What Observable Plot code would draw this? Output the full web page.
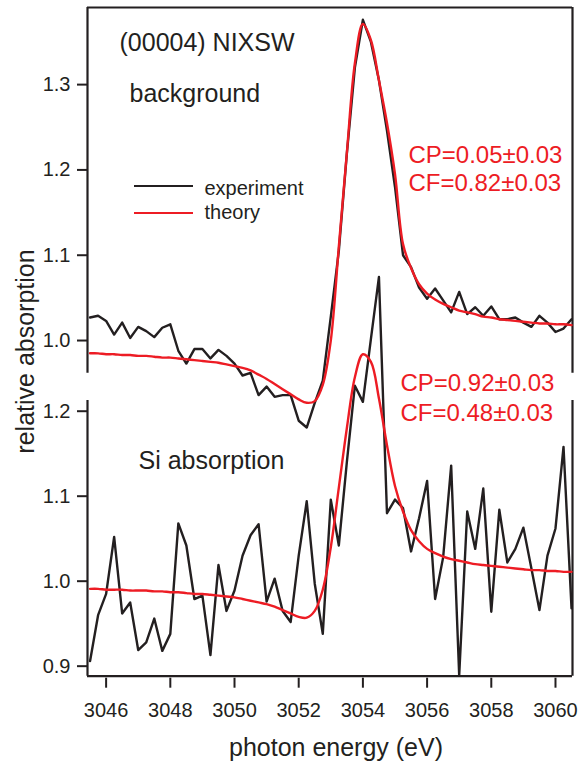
<!DOCTYPE html>
<html><head><meta charset="utf-8">
<script src="https://cdn.jsdelivr.net/npm/d3@7"></script>
<script src="https://cdn.jsdelivr.net/npm/@observablehq/plot@0.6"></script>
<style>
html,body{margin:0;padding:0;background:#fff;}
#chart{position:relative;width:582px;height:767px;}
#chart svg{position:absolute;left:0;overflow:visible;}
.sw{position:absolute;height:2px;width:59px;}
</style></head><body><div id="chart"></div>
<script>
// photon energy grid (eV)
const energy = [3045.5,3045.75,3046,3046.25,3046.5,3046.75,3047,3047.25,3047.5,3047.75,3048,3048.25,3048.5,3048.75,3049,3049.25,3049.5,3049.75,3050,3050.25,3050.5,3050.75,3051,3051.25,3051.5,3051.75,3052,3052.25,3052.5,3052.75,3053,3053.25,3053.5,3053.75,3054,3054.25,3054.5,3054.75,3055,3055.25,3055.5,3055.75,3056,3056.25,3056.5,3056.75,3057,3057.25,3057.5,3057.75,3058,3058.25,3058.5,3058.75,3059,3059.25,3059.5,3059.75,3060,3060.25,3060.5];
// background (upper panel)
const bgExperiment = [1.027,1.029,1.023,1.007,1.021,1.003,1.016,1.011,1.004,1.015,1.019,0.988,0.973,0.990,0.990,0.979,0.989,0.982,0.973,0.959,0.962,0.936,0.946,0.934,0.936,0.936,0.906,0.898,0.927,0.953,1.028,1.105,1.219,1.320,1.376,1.350,1.305,1.246,1.180,1.100,1.086,1.062,1.049,1.061,1.047,1.033,1.057,1.031,1.039,1.029,1.040,1.025,1.025,1.027,1.021,1.016,1.029,1.021,1.010,1.014,1.025];
const bgTheory = [0.985,0.985,0.984,0.984,0.983,0.983,0.982,0.982,0.981,0.980,0.980,0.979,0.978,0.977,0.976,0.975,0.974,0.972,0.970,0.968,0.965,0.960,0.955,0.949,0.943,0.937,0.931,0.927,0.929,0.948,1.000,1.110,1.220,1.325,1.371,1.352,1.305,1.255,1.195,1.113,1.085,1.066,1.055,1.048,1.043,1.039,1.035,1.033,1.031,1.028,1.027,1.025,1.024,1.023,1.022,1.021,1.020,1.020,1.019,1.019,1.018];
// Si absorption (lower panel)
const siExperiment = [0.906,0.960,0.985,1.052,0.962,0.975,0.919,0.928,0.956,0.918,0.938,1.068,1.042,0.979,0.983,0.913,1.019,0.965,0.989,1.030,1.054,1.067,0.976,1.003,0.965,0.952,1.030,1.094,0.997,0.938,1.096,1.042,1.140,1.230,1.211,1.285,1.358,1.080,1.096,1.086,1.035,1.074,1.118,0.979,1.028,1.136,0.889,1.082,1.038,1.109,0.964,1.084,1.022,1.038,1.063,1.015,0.966,1.030,1.062,1.158,0.968];
const siTheory = [0.991,0.991,0.990,0.990,0.990,0.989,0.989,0.989,0.988,0.988,0.987,0.987,0.986,0.985,0.985,0.984,0.983,0.982,0.981,0.979,0.977,0.975,0.973,0.970,0.966,0.962,0.958,0.957,0.965,0.990,1.040,1.110,1.180,1.240,1.267,1.258,1.215,1.160,1.112,1.082,1.060,1.047,1.038,1.033,1.029,1.026,1.024,1.022,1.020,1.019,1.018,1.017,1.016,1.015,1.014,1.013,1.013,1.012,1.012,1.011,1.011];
// axes
const xDomain = [3045.42, 3060.53];
const topDomain = [0.9617, 1.3904];
const botDomain = [0.8882, 1.2126];
const topTicks = [1.0, 1.1, 1.2, 1.3];
const botTicks = [0.9, 1.0, 1.1, 1.2];
const xTicks = [3046, 3048, 3050, 3052, 3054, 3056, 3058, 3060];
// texts
const panelTitle = "(00004) NIXSW";
const topLabel = "background";
const botLabel = "Si absorption";
const topFit = ["CP=0.05±0.03", "CF=0.82±0.03"];
const botFit = ["CP=0.92±0.03", "CF=0.48±0.03"];
const seriesNames = ["experiment", "theory"];
const yTitle = "relative absorption";
const xTitle = "photon energy (eV)";

const FONT = "'Liberation Sans', Arial, Helvetica, sans-serif";
const INK = "#231f20";
const RED = "#ed1c24";

const topRows = energy.map((e, i) => ({e, exp: bgExperiment[i], th: bgTheory[i]}));
const botRows = energy.map((e, i) => ({e, exp: siExperiment[i], th: siTheory[i]}));

const baseStyle = {fontFamily: FONT, fontSize: "20px", color: INK, overflow: "visible", background: "transparent"};
const txt = (s, o) => Plot.text([s], {frameAnchor: "top-left", textAnchor: "start", lineAnchor: "bottom", fill: INK, fontSize: 25, ...o});

const topPlot = Plot.plot({
  width: 582, height: 386,
  marginLeft: 87, marginRight: 10, marginTop: 7, marginBottom: 13.3,
  style: baseStyle,
  x: {domain: xDomain, axis: null},
  y: {domain: topDomain},
  marks: [
    Plot.axisY(topTicks, {tickSize: 10, tickPadding: 7, tickFormat: ".1f", strokeWidth: 2, label: null}),
    Plot.ruleX(xDomain, {stroke: INK, strokeWidth: 2.2}),
    Plot.ruleY([topDomain[1]], {stroke: INK, strokeWidth: 2.2}),
    Plot.line(topRows, {x: "e", y: "exp", stroke: INK, strokeWidth: 2.4}),
    Plot.line(topRows, {x: "e", y: "th", stroke: RED, strokeWidth: 2.4, curve: "catmull-rom"}),
    txt(panelTitle, {dx: 32, dy: 43}),
    txt(topLabel, {dx: 42, dy: 94}),
    txt(seriesNames[0], {dx: 117, dy: 187, fontSize: 20}),
    txt(seriesNames[1], {dx: 117, dy: 211.5, fontSize: 20}),
    txt(topFit[0], {dx: 321, dy: 155, fontSize: 24, fill: RED}),
    txt(topFit[1], {dx: 321, dy: 183, fontSize: 24, fill: RED}),
    Plot.text([yTitle], {frameAnchor: "top-left", dx: -54, dy: 344, rotate: -90, textAnchor: "middle", lineAnchor: "bottom", fontSize: 25, fill: INK})
  ]
});
topPlot.style.top = "0px";

const botPlot = Plot.plot({
  width: 582, height: 381,
  marginLeft: 87, marginRight: 10, marginTop: 14, marginBottom: 91.3,
  style: baseStyle,
  x: {domain: xDomain},
  y: {domain: botDomain},
  marks: [
    Plot.axisY(botTicks, {tickSize: 10, tickPadding: 7, tickFormat: ".1f", strokeWidth: 2, label: null}),
    Plot.axisX(xTicks, {tickSize: 10, dy: 2, tickPadding: 15, tickFormat: d => String(d), strokeWidth: 2, label: null}),
    Plot.ruleX(xDomain, {stroke: INK, strokeWidth: 2.2}),
    Plot.ruleY([botDomain[0]], {stroke: INK, strokeWidth: 2.2}),
    Plot.line(botRows, {x: "e", y: "exp", stroke: INK, strokeWidth: 2.4}),
    Plot.line(botRows, {x: "e", y: "th", stroke: RED, strokeWidth: 2.4, curve: "catmull-rom"}),
    txt(botLabel, {dx: 51, dy: 68}),
    txt(botFit[0], {dx: 313, dy: -10, fontSize: 24, fill: RED}),
    txt(botFit[1], {dx: 313, dy: 20, fontSize: 24, fill: RED}),
    Plot.text([xTitle], {frameAnchor: "bottom", dx: 6, dy: 79.3, lineAnchor: "bottom", fontSize: 25, fill: INK})
  ]
});
botPlot.style.top = "386px";

const chart = document.getElementById("chart");
chart.append(topPlot, botPlot);
// legend swatches
[[INK, 184.7], [RED, 212.3]].forEach(([c, t]) => {
  const d = document.createElement("div");
  d.className = "sw"; d.style.left = "134px"; d.style.top = t + "px"; d.style.background = c;
  chart.append(d);
});
</script></body></html>
